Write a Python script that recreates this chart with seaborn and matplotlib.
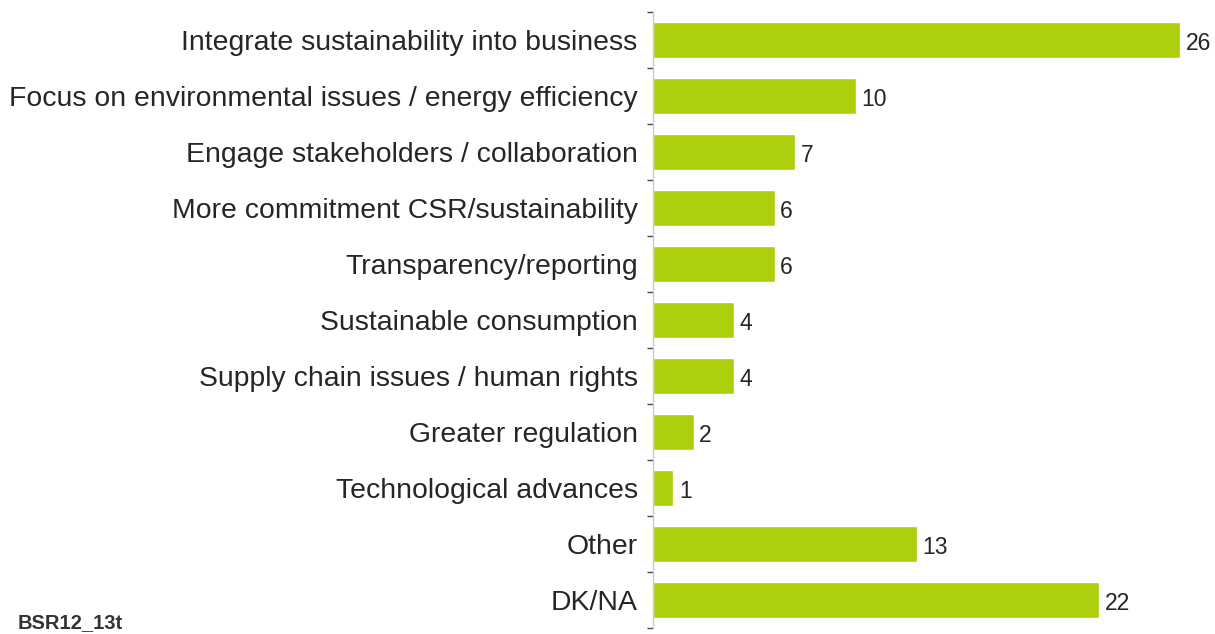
import matplotlib.pyplot as plt
import seaborn as sns
import pandas as pd

# datos del grafico
categorias = [
    "Integrate sustainability into business",
    "Focus on environmental issues / energy efficiency",
    "Engage stakeholders / collaboration",
    "More commitment CSR/sustainability",
    "Transparency/reporting",
    "Sustainable consumption",
    "Supply chain issues / human rights",
    "Greater regulation",
    "Technological advances",
    "Other",
    "DK/NA",
]
valores = [26, 10, 7, 6, 6, 4, 4, 2, 1, 13, 22]

datos = pd.DataFrame({"categoria": categorias, "valor": valores})

sns.set_theme(style="white")
plt.rcParams["font.family"] = ["Liberation Sans", "DejaVu Sans"]

fig = plt.figure(figsize=(12.15, 6.34), dpi=100)
ax = fig.add_axes([653 / 1215, 6 / 634, 562 / 1215, 616 / 634])

sns.barplot(data=datos, x="valor", y="categoria", orient="h",
            color="#acd00c", saturation=1, width=0.64, ax=ax)

# etiquetas de valor
for i, v in enumerate(valores):
    ax.text(v + 0.28, i + 0.06, str(v), va="center", ha="left",
            fontsize=16.5, color="#262626")

ax.set_xlim(0, 562 / 20.27)
ax.set_ylim(len(categorias) - 0.5, -0.5)
ax.set_xlabel("")
ax.set_ylabel("")
ax.set_xticks([])

# marcas en los limites de cada categoria, etiquetas en el centro
ax.set_yticks([i - 0.5 for i in range(len(categorias) + 1)])
ax.set_yticklabels([])
ax.set_yticks(range(len(categorias)), minor=True)
ax.set_yticklabels(categorias, minor=True, fontsize=20.4, color="#262626")
ax.tick_params(axis="y", which="major", length=4.5, width=1, color="#444444", left=True)
ax.tick_params(axis="y", which="minor", length=0, pad=11)

for lado in ["top", "right", "bottom"]:
    ax.spines[lado].set_visible(False)
ax.spines["left"].set_color("#cccccc")
ax.spines["left"].set_linewidth(1)

fig.text(18 / 1215, 1 - 628 / 634, "BSR12_13t", fontsize=14.5, color="#333333",
         ha="left", va="baseline", fontweight="bold")

fig.savefig("out.png", dpi=100)
